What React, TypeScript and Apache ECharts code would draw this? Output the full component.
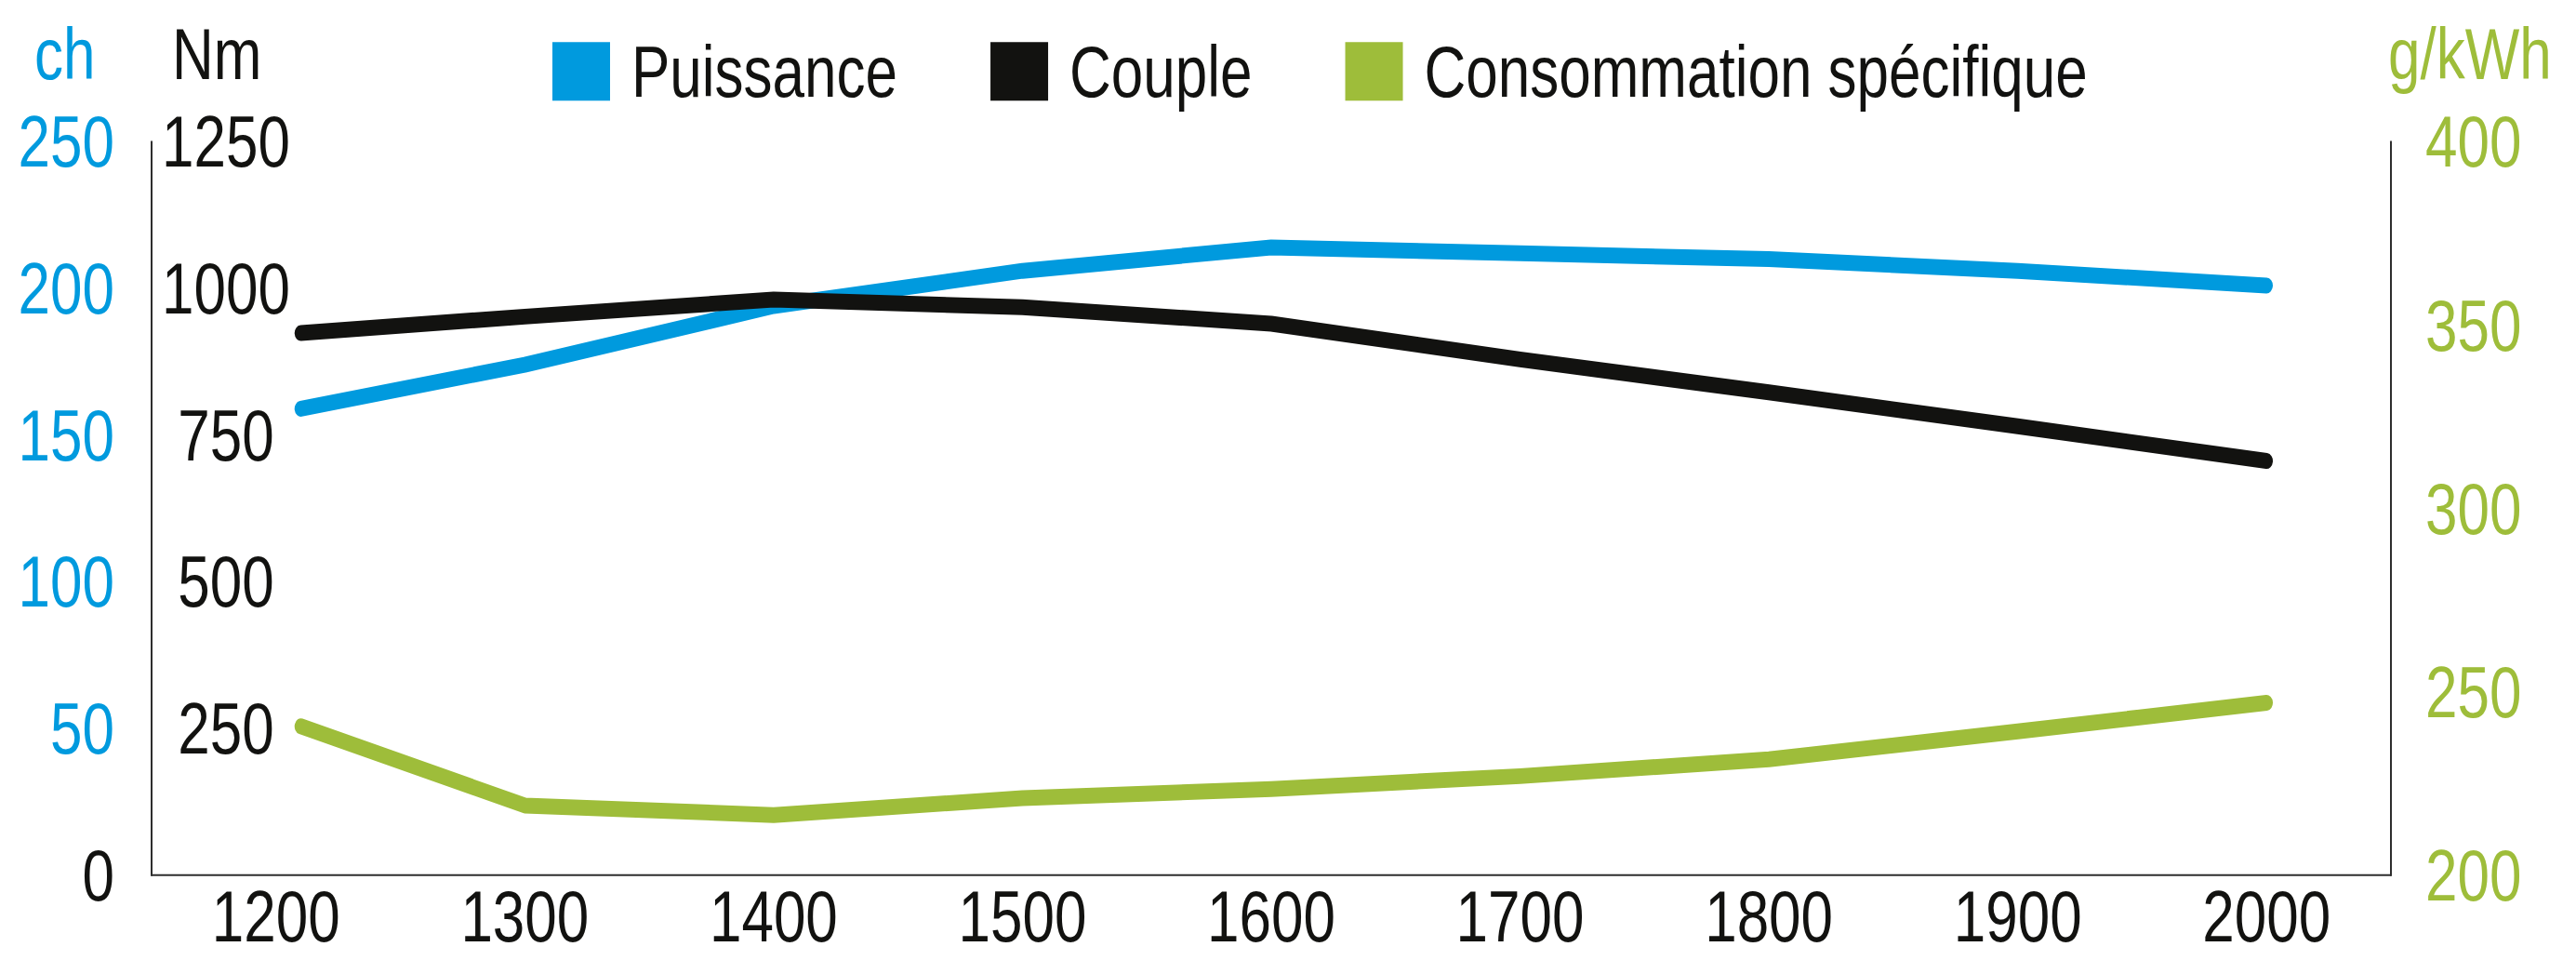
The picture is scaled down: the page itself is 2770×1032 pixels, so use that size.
import React, { useEffect, useRef } from "react";
import * as echarts from "echarts";

const categories = ["1200", "1300", "1400", "1500", "1600", "1700", "1800", "1900", "2000"];
const rpm = [1210, 1300, 1400, 1500, 1600, 1700, 1800, 1900, 2000];
const puissance = [159, 174, 194, 206, 214, 212, 210, 206, 201];
const couple = [924, 952, 981, 968, 940, 879, 823, 765, 706];
const conso = [240.6, 219, 216.4, 221, 223.5, 227, 231.6, 239.2, 247];
const seriesNames = ["Puissance", "Couple", "Consommation spécifique"];
const units = ["ch", "Nm", "g/kWh"];

const BLUE = "#009ADE";
const BLACK = "#121210";
const GREEN = "#9EBD3A";
const AXIS = "#2e2e2e";
const FONT = "'Liberation Sans', Arial, sans-serif";
const FS = 62;

// The reference's lettering is stretched vertically; the chart is drawn at a
// reduced height and stretched back to 1032 px.
const W = 2770;
const H = 826;
const K = 1032 / H;

const pairs = (ys: number[]) => ys.map((y, i) => [rpm[i], y]);

export default function App() {
  const ref = useRef<HTMLDivElement>(null);
  useEffect(() => {
    document.body.style.margin = "0";
    const chart = echarts.init(ref.current!, undefined, { renderer: "svg" });
    const lineSeries = (name: string, data: number[], color: string, yIdx: number) => ({
      name,
      type: "line",
      xAxisIndex: 1,
      yAxisIndex: yIdx,
      data: pairs(data),
      symbol: "none",
      color,
      lineStyle: { color, width: 13.6, cap: "round", join: "round" },
    });
    const unitText = (text: string, x: number, fill: string) => ({
      type: "text",
      x,
      y: 15.5,
      style: { text, fill, font: `${FS}px ${FONT}`, align: "left", verticalAlign: "top" },
    });
    chart.setOption({
      animation: false,
      textStyle: { fontFamily: FONT },
      grid: { left: 163, right: 199, top: 122, bottom: 73, containLabel: false, outerBoundsMode: "none" },
      legend: {
        left: 594,
        top: 30.4,
        padding: 0,
        icon: "rect",
        itemWidth: 62,
        itemHeight: 50.4,
        itemGap: 100,
        itemStyle: { borderWidth: 0 },
        textStyle: { fontFamily: FONT, fontSize: FS, color: BLACK, padding: [0, 0, 0, 18] },
        data: seriesNames,
      },
      graphic: [
        unitText(units[0], 37, BLUE),
        unitText(units[1], 185, BLACK),
        unitText(units[2], 2568, GREEN),
      ],
      xAxis: [
        {
          type: "category",
          data: categories,
          boundaryGap: true,
          axisLine: { show: true, lineStyle: { color: AXIS, width: 1.6 } },
          axisTick: { show: false },
          axisLabel: { color: BLACK, fontSize: FS, fontFamily: FONT, margin: 4 },
          splitLine: { show: false },
        },
        { type: "value", min: 1150, max: 2050, show: false },
      ],
      yAxis: [
        {
          type: "value",
          position: "left",
          min: 0,
          max: 250,
          interval: 50,
          axisLine: { show: true, lineStyle: { color: AXIS, width: 2 } },
          axisTick: { show: false },
          splitLine: { show: false },
          axisLabel: {
            fontSize: FS,
            fontFamily: FONT,
            margin: 40,
            color: (v: any) => (Number(v) === 0 ? BLACK : BLUE),
          },
        },
        {
          type: "value",
          position: "left",
          offset: -100,
          min: 0,
          max: 1250,
          interval: 250,
          axisLine: { show: false },
          axisTick: { show: false },
          splitLine: { show: false },
          axisLabel: {
            fontSize: FS,
            fontFamily: FONT,
            margin: 20,
            align: "center",
            color: BLACK,
            showMinLabel: false,
            formatter: (v: number) => (v === 0 ? "" : String(v)),
          },
        },
        {
          type: "value",
          position: "right",
          min: 200,
          max: 400,
          interval: 50,
          axisLine: { show: true, lineStyle: { color: AXIS, width: 2 } },
          axisTick: { show: false },
          splitLine: { show: false },
          axisLabel: { fontSize: FS, fontFamily: FONT, margin: 37, color: GREEN },
        },
      ],
      series: [
        lineSeries(seriesNames[0], puissance, BLUE, 0),
        lineSeries(seriesNames[1], couple, BLACK, 1),
        lineSeries(seriesNames[2], conso, GREEN, 2),
      ],
    });
    return () => chart.dispose();
  }, []);
  return (
    <div style={{ position: "absolute", left: 0, top: 0, width: W, height: 1032, overflow: "hidden", background: "#fff" }}>
      <div
        ref={ref}
        style={{ width: W, height: H, transform: `scaleY(${K})`, transformOrigin: "0 0" }}
      />
    </div>
  );
}
